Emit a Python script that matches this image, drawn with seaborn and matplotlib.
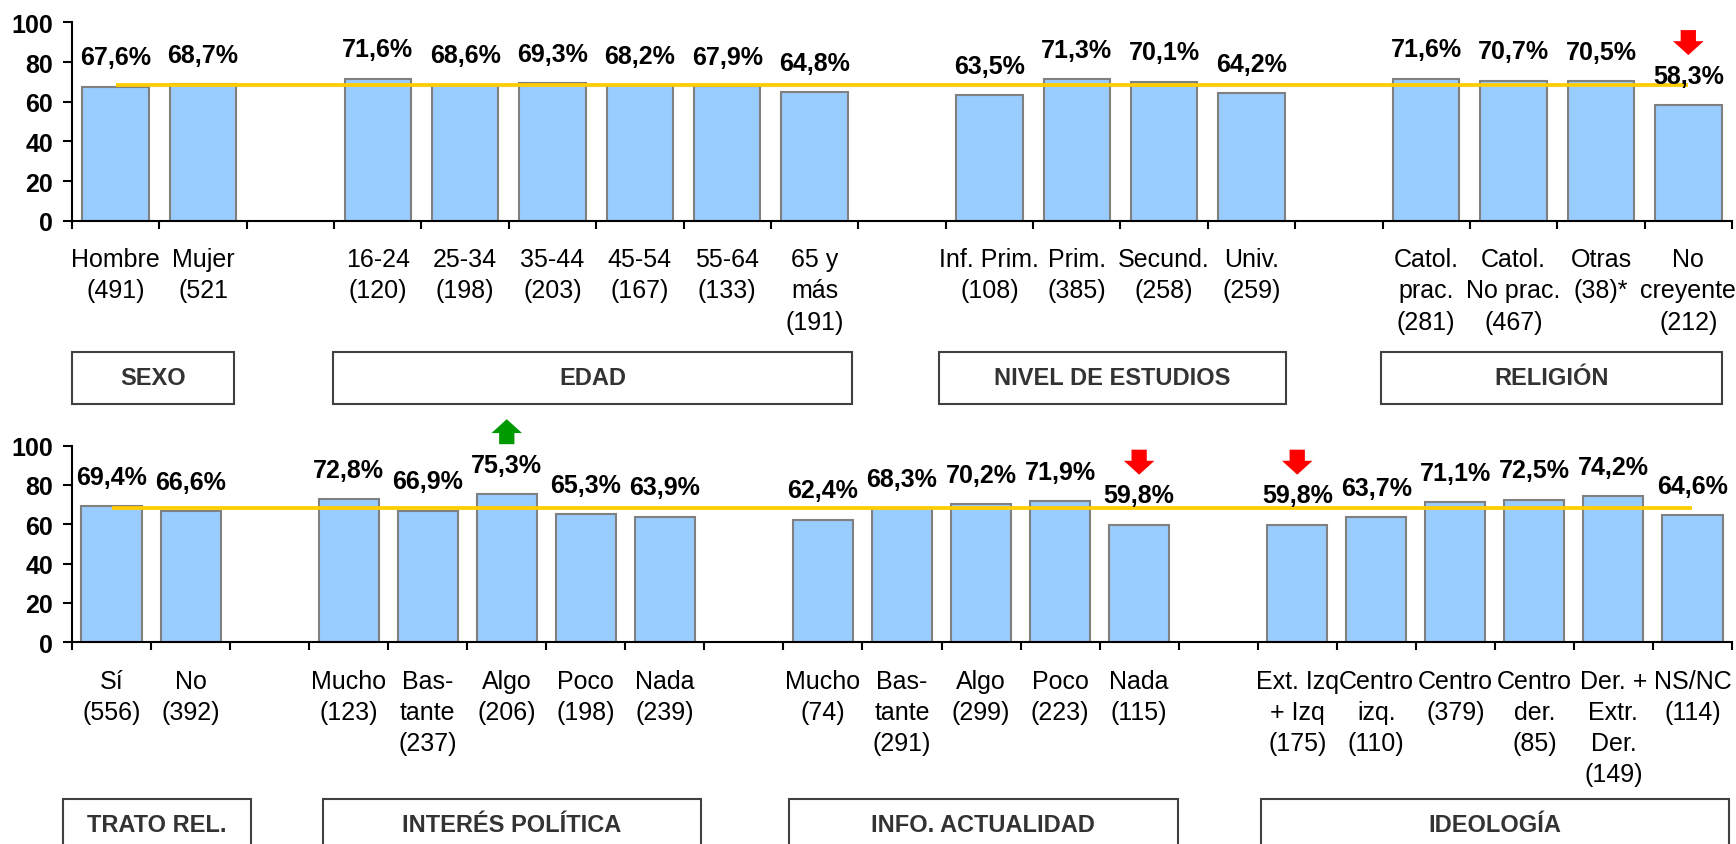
import numpy as np
import pandas as pd
import seaborn as sns
from matplotlib import pyplot as plt
from matplotlib import transforms
from matplotlib.patches import Rectangle

# upper panel: sexo / edad / estudios / religión
top_labels = ['Hombre\n(491)', 'Mujer\n(521', '',
              '16-24\n(120)', '25-34\n(198)', '35-44\n(203)', '45-54\n(167)',
              '55-64\n(133)', '65 y\nmás\n(191)', '',
              'Inf. Prim.\n(108)', 'Prim.\n(385)', 'Secund.\n(258)', 'Univ.\n(259)', '',
              'Catol.\nprac.\n(281)', 'Catol.\nNo prac.\n(467)', 'Otras\n(38)*',
              'No\ncreyente\n(212)']
top_values = [67.6, 68.7, None,
              71.6, 68.6, 69.3, 68.2, 67.9, 64.8, None,
              63.5, 71.3, 70.1, 64.2, None,
              71.6, 70.7, 70.5, 58.3]
top_groups = ['SEXO', 'EDAD', 'NIVEL DE ESTUDIOS', 'RELIGIÓN']
top_mean = 68.6
top_up = []
top_down = ['No\ncreyente\n(212)']

# lower panel: trato / interés / info / ideología
bottom_labels = ['Sí\n(556)', 'No\n(392)', '',
                 'Mucho\n(123)', 'Bas-\ntante\n(237)', 'Algo\n(206)', 'Poco\n(198)',
                 'Nada\n(239)', '',
                 'Mucho\n(74)', 'Bas-\ntante\n(291)', 'Algo\n(299)', 'Poco\n(223)',
                 'Nada\n(115)', '',
                 'Ext. Izq\n+ Izq\n(175)', 'Centro\nizq.\n(110)', 'Centro\n(379)',
                 'Centro\nder.\n(85)', 'Der. +\nExtr.\nDer.\n(149)', 'NS/NC\n(114)']
bottom_values = [69.4, 66.6, None,
                 72.8, 66.9, 75.3, 65.3, 63.9, None,
                 62.4, 68.3, 70.2, 71.9, 59.8, None,
                 59.8, 63.7, 71.1, 72.5, 74.2, 64.6]
bottom_groups = ['TRATO REL.', 'INTERÉS POLÍTICA', 'INFO. ACTUALIDAD', 'IDEOLOGÍA']
bottom_mean = 68.2
bottom_up = ['Algo\n(206)']
bottom_down = ['Nada\n(115)', 'Ext. Izq\n+ Izq\n(175)']

# box extents along x (category units) and vertical placement (figure fraction)
top_boxes = [(-0.5, 1.35), (2.49, 8.43), (9.42, 13.4), (14.48, 18.38)]
bottom_boxes = [(-0.62, 1.76), (2.67, 7.46), (8.57, 13.49), (14.54, 20.46)]

sns.set_style('white', rc={'text.color': 'black', 'xtick.color': 'black',
                           'ytick.color': 'black'})
plt.rcParams['font.family'] = ['Liberation Sans', 'DejaVu Sans']

BAR = '#99CCFF'
EDGE = '#808080'
GOLD = '#FFCC00'


def draw_panel(ax, labels, values, mean, ups, downs, groups, boxes, box_top):
    keys = [lab if lab else f'gap{i}' for i, lab in enumerate(labels)]
    df = pd.DataFrame({'cat': keys, 'pct': values}).dropna()
    sns.barplot(data=df, x='cat', y='pct', order=keys, color=BAR, saturation=1,
                edgecolor=EDGE, linewidth=1.5, width=0.76, errorbar=None, ax=ax)
    n = len(keys)
    idx = [i for i, v in enumerate(values) if v is not None]
    ax.hlines(mean, idx[0], idx[-1], color=GOLD, lw=2.7, zorder=4)

    for i, v in enumerate(values):
        if v is None:
            continue
        ax.annotate(f'{v:.1f}%'.replace('.', ','), (i, v), xytext=(0, 16),
                    textcoords='offset points', ha='center', va='baseline',
                    fontsize=18, fontweight='bold', color='black', zorder=6)
        near = transforms.offset_copy(ax.transData, fig=ax.figure, y=36, units='points')
        far = transforms.offset_copy(ax.transData, fig=ax.figure, y=54, units='points')
        style = 'simple,head_length=1.0,head_width=2.2,tail_width=1.1'
        if labels[i] in downs:
            ax.annotate('', xy=(i, v), xycoords=near, xytext=(i, v), textcoords=far,
                        arrowprops=dict(arrowstyle=style, mutation_scale=10, fc='#FF0000',
                                        ec='none', shrinkA=0, shrinkB=0),
                        annotation_clip=False)
        if labels[i] in ups:
            ax.annotate('', xy=(i, v), xycoords=far, xytext=(i, v), textcoords=near,
                        arrowprops=dict(arrowstyle=style, mutation_scale=10, fc='#009900',
                                        ec='none', shrinkA=0, shrinkB=0),
                        annotation_clip=False)

    ax.set_xlim(-0.5, n - 0.5)
    ax.set_ylim(0, 100)
    ax.set_yticks(range(0, 101, 20))
    ax.set_yticklabels([str(t) for t in range(0, 101, 20)], fontsize=18, fontweight='bold')
    ax.tick_params(axis='y', length=6.5, width=1.5, pad=7, direction='out', left=True)
    ax.set_xticks(range(n))
    ax.set_xticklabels(labels, fontsize=18, linespacing=1.38)
    ax.set_xticks(np.arange(-0.5, n), minor=True)
    ax.tick_params(axis='x', which='major', length=0, pad=19)
    ax.tick_params(axis='x', which='minor', length=6, width=1.5, direction='out', bottom=True)
    ax.set_xlabel('')
    ax.set_ylabel('')
    sns.despine(ax=ax)
    for side in ['left', 'bottom']:
        ax.spines[side].set_linewidth(1.5)
        ax.spines[side].set_color('black')

    trans = transforms.blended_transform_factory(ax.transData, ax.figure.transFigure)
    h = 52 / 845
    for name, (x0, x1) in zip(groups, boxes):
        ax.add_patch(Rectangle((x0, box_top - h), x1 - x0, h, transform=trans, fill=False,
                               ec='#404040', lw=1.5, clip_on=False))
        ax.text((x0 + x1) / 2, box_top - h / 2, name, transform=trans, ha='center',
                va='center', fontsize=17, fontweight='bold', color='#333333')


fig = plt.figure(figsize=(17.36, 8.45), dpi=100)
ax_top = fig.add_axes([72 / 1736, 1 - 221.7 / 845, 1660 / 1736, 198.3 / 845])
ax_bot = fig.add_axes([72 / 1736, 1 - 643.3 / 845, 1660 / 1736, 196.7 / 845])

draw_panel(ax_top, top_labels, top_values, top_mean, top_up, top_down,
           top_groups, top_boxes, 1 - 353 / 845)
draw_panel(ax_bot, bottom_labels, bottom_values, bottom_mean, bottom_up, bottom_down,
           bottom_groups, bottom_boxes, 1 - 800 / 845)

fig.savefig('out.png', dpi=100)
